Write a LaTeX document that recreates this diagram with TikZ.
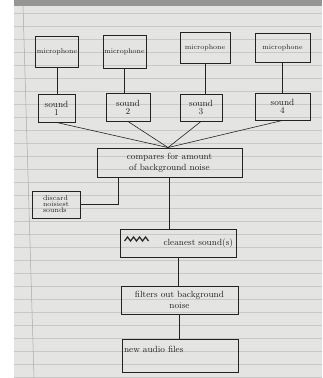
\documentclass[tikz,border=0pt]{standalone}
\usepackage{tikz}
\usetikzlibrary{positioning}
\definecolor{paper}{RGB}{228,228,226}
\definecolor{rule}{RGB}{200,200,200}
\definecolor{band}{RGB}{150,150,150}
\definecolor{ink}{RGB}{35,35,35}
\tikzset{
    stepbox/.style={
        draw=ink, line width=0.9pt, rectangle, inner sep=1pt,
        align=center, text=ink, font=\small
    },
    link/.style={draw=ink, line width=0.6pt}
}
\newcommand{\micChain}[8] {
	\node[stepbox, minimum width=#3, minimum height=#4, font=\scriptsize] (mic#1) at #2 {microphone};
	\node[stepbox, minimum width=#6, minimum height=#7] (snd#1) at #5 {sound\\[-3pt]#1};
	\draw[link] (mic#1.south) -- (mic#1.south |- snd#1.north);
	\draw[link] (snd#1.south) -- (#8);
}

\begin{document}
\begin{tikzpicture}[x=1pt, y=-1pt]
		\useasboundingbox (0,0) rectangle (322,378);

		% Paper
		\fill [white] (0,0) rectangle (322,378);
		\fill [paper] (14,0) rectangle (322,378);
		\fill [band] (14,0) rectangle (322,6);
		\foreach \y in {13,26,...,377}
			\draw [rule, line width=0.5pt] (14,\y) -- (322,\y);
		\draw [rule!85!black, line width=0.5pt] (23,6) -- (34,378);

		% Meeting point on top of the comparison box
		\node[stepbox, minimum width=145, minimum height=29] (compare) at (169.5,162.5) {compares for amount\\of background noise};
		\coordinate (meet) at ([xshift=-1.5pt]compare.north);

		% Inputs
		\micChain{1}{(57,51.5)}{40}{31}{(56.5,108)}{37}{28}{meet}
		\micChain{2}{(124.5,51.5)}{43}{33}{(128,107)}{44}{28}{meet}
		\micChain{3}{(205,47.5)}{50}{31}{(201,107.5)}{42}{27}{meet}
		\micChain{4}{(282.5,47.5)}{55}{29}{(282.5,106.5)}{55}{27}{meet}

		% Side branch
		\node[stepbox, minimum width=48, minimum height=27, font=\scriptsize, align=left] (discard) at (56,204.5) {discard\\[-2pt]noisiest\\[-2pt]sounds};
		\coordinate (split) at (118,177);
		\draw[link] (split) |- (discard.east);

		% Main line
		\node[stepbox, minimum width=116, minimum height=28, text width=110, align=right] (clean) at (178,243) {cleanest sound(s)};
		\node[stepbox, minimum width=117, minimum height=28] (filter) at (179.5,300) {filters out background\\noise};
		\node[stepbox, minimum width=116, minimum height=33, text width=112, text depth=12pt, align=left] (audio) at (180,355.5) {new audio files};

		\draw[link] (compare.south) -- (compare.south |- clean.north);
		\draw[link] (clean.south) -- (clean.south |- filter.north);
		\draw[link] (filter.south) -- (filter.south |- audio.north);

		% Crossed-out word
		\draw [ink, line width=1.2pt] ([xshift=5pt,yshift=2pt]clean.west)
			-- ++(3,-4) -- ++(3,4) -- ++(3,-4) -- ++(3,4) -- ++(3,-4) -- ++(3,4) -- ++(3,-4) -- ++(3,4);

	\end{tikzpicture}
\end{document}
